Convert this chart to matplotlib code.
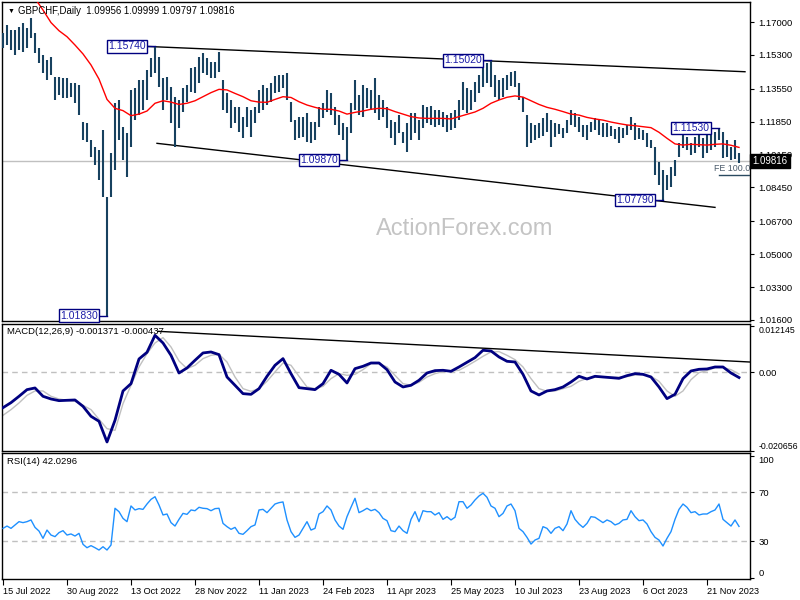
import matplotlib
matplotlib.use("Agg")
import matplotlib.pyplot as plt
import numpy as np

plt.rcParams["font.family"] = ["Liberation Sans", "DejaVu Sans"]

# %% data (one bar = 2 trading days, index 0 = 15 Jul 2022)
highs = [
    1.1641, 1.1684, 1.1659, 1.1659, 1.1676, 1.1693, 1.1667, 1.1719, 1.1641, 1.1564,
    1.1530, 1.1504, 1.1521, 1.1418, 1.1418, 1.1409, 1.1409, 1.1383, 1.1383, 1.1375,
    1.1185, 1.1176, 1.1090, 1.1056, 1.1038, 1.1142, 1.0797, 1.1021, 1.1280, 1.1297,
    1.1159, 1.1125, 1.1349, 1.1357, 1.1400, 1.1400, 1.1452, 1.1512, 1.1574, 1.1521,
    1.1409, 1.1418, 1.1366, 1.1314, 1.1297, 1.1357, 1.1375, 1.1461, 1.1469, 1.1521,
    1.1538, 1.1512, 1.1495, 1.1495, 1.1547, 1.1400, 1.1331, 1.1297, 1.1262, 1.1262,
    1.1211, 1.1262, 1.1245, 1.1262, 1.1349, 1.1375, 1.1357, 1.1383, 1.1421, 1.1426,
    1.1426, 1.1438, 1.1288, 1.1194, 1.1211, 1.1211, 1.1228, 1.1185, 1.1185, 1.1262,
    1.1280, 1.1349, 1.1331, 1.1262, 1.1220, 1.1176, 1.1159, 1.1280, 1.1400, 1.1323,
    1.1375, 1.1357, 1.1349, 1.1409, 1.1323, 1.1297, 1.1262, 1.1194, 1.1185, 1.1220,
    1.1133, 1.1176, 1.1228, 1.1228, 1.1194, 1.1271, 1.1262, 1.1266, 1.1245, 1.1245,
    1.1237, 1.1220, 1.1228, 1.1245, 1.1297, 1.1392, 1.1357, 1.1349, 1.1392, 1.1426,
    1.1469, 1.1487, 1.1502, 1.1426, 1.1400, 1.1409, 1.1426, 1.1443, 1.1449, 1.1383,
    1.1314, 1.1220, 1.1176, 1.1168, 1.1176, 1.1202, 1.1228, 1.1194, 1.1176, 1.1173,
    1.1151, 1.1194, 1.1245, 1.1228, 1.1211, 1.1168, 1.1168, 1.1185, 1.1202, 1.1194,
    1.1176, 1.1176, 1.1163, 1.1146, 1.1159, 1.1151, 1.1168, 1.1211, 1.1176, 1.1151,
    1.1142, 1.1125, 1.1090, 1.1056, 1.0978, 1.0935, 1.0909, 1.0952, 1.0987, 1.1073,
    1.1125, 1.1107, 1.1073, 1.1107, 1.1125, 1.1099, 1.1116, 1.1125, 1.1133, 1.1153,
    1.1133, 1.1090, 1.1056, 1.1090, 1.1021,
]
lows = [
    1.1564, 1.1581, 1.1555, 1.1530, 1.1555, 1.1547, 1.1564, 1.1616, 1.1538, 1.1487,
    1.1435, 1.1400, 1.1426, 1.1297, 1.1323, 1.1306, 1.1306, 1.1314, 1.1280, 1.1220,
    1.1090, 1.1082, 1.1004, 1.0961, 1.0883, 1.0797, 1.0183, 1.0797, 1.0935, 1.1090,
    1.0987, 1.0901, 1.1056, 1.1194, 1.1220, 1.1245, 1.1297, 1.1418, 1.1435, 1.1366,
    1.1245, 1.1297, 1.1176, 1.1056, 1.1150, 1.1237, 1.1288, 1.1340, 1.1331, 1.1383,
    1.1435, 1.1426, 1.1409, 1.1409, 1.1443, 1.1245, 1.1228, 1.1150, 1.1176, 1.1133,
    1.1099, 1.1159, 1.1107, 1.1176, 1.1228, 1.1245, 1.1271, 1.1288, 1.1331, 1.1340,
    1.1357, 1.1297, 1.1185, 1.1090, 1.1099, 1.1107, 1.1082, 1.1073, 1.1090, 1.1159,
    1.1202, 1.1237, 1.1220, 1.1168, 1.1116, 1.1090, 1.0987, 1.1125, 1.1245, 1.1220,
    1.1211, 1.1254, 1.1245, 1.1228, 1.1194, 1.1211, 1.1150, 1.1099, 1.1064, 1.1125,
    1.1073, 1.1030, 1.1090, 1.1125, 1.1090, 1.1150, 1.1176, 1.1168, 1.1159, 1.1168,
    1.1159, 1.1133, 1.1142, 1.1150, 1.1194, 1.1245, 1.1228, 1.1245, 1.1288, 1.1331,
    1.1366, 1.1383, 1.1366, 1.1314, 1.1297, 1.1314, 1.1349, 1.1369, 1.1362, 1.1297,
    1.1237, 1.1056, 1.1073, 1.1090, 1.1099, 1.1111, 1.1133, 1.1056, 1.1107, 1.1121,
    1.1099, 1.1125, 1.1168, 1.1159, 1.1133, 1.1107, 1.1090, 1.1133, 1.1142, 1.1116,
    1.1107, 1.1107, 1.1111, 1.1094, 1.1073, 1.1099, 1.1116, 1.1142, 1.1090, 1.1094,
    1.1090, 1.1056, 1.1047, 1.0909, 1.0857, 1.0779, 1.0832, 1.0849, 1.0904, 1.1004,
    1.1047, 1.1038, 1.1013, 1.1021, 1.1056, 1.0995, 1.1021, 1.1038, 1.1056, 1.1090,
    1.0995, 1.1004, 1.0987, 1.0990, 1.0973,
]

# moving average, one value per 4 trading days
ma = [
    1.2070, 1.2020, 1.1955, 1.1891, 1.1822, 1.1762, 1.1697, 1.1655, 1.1624, 1.1581,
    1.1535, 1.1478, 1.1405, 1.1300, 1.1254, 1.1242, 1.1216, 1.1224, 1.1240, 1.1280,
    1.1293, 1.1286, 1.1274, 1.1280, 1.1293, 1.1314, 1.1335, 1.1352, 1.1349, 1.1331,
    1.1314, 1.1293, 1.1286, 1.1285, 1.1300, 1.1314, 1.1310, 1.1288, 1.1271, 1.1259,
    1.1249, 1.1249, 1.1240, 1.1224, 1.1233, 1.1240, 1.1249, 1.1254, 1.1252, 1.1237,
    1.1224, 1.1211, 1.1204, 1.1202, 1.1202, 1.1202, 1.1199, 1.1211, 1.1223, 1.1235,
    1.1254, 1.1280, 1.1297, 1.1311, 1.1318, 1.1312, 1.1293, 1.1274, 1.1259, 1.1249,
    1.1237, 1.1224, 1.1219, 1.1207, 1.1199, 1.1193, 1.1183, 1.1175, 1.1168, 1.1164,
    1.1159, 1.1154, 1.1130, 1.1099, 1.1070, 1.1064, 1.1068, 1.1066, 1.1064, 1.1068,
    1.1070, 1.1063, 1.1052,
]

macd = [
    -0.00928, -0.00796, -0.00630, -0.00455, -0.00411, -0.00630, -0.00700, -0.00744, -0.00735, -0.00726,
    -0.00893, -0.01155, -0.01286, -0.01829, -0.01260, -0.00490, -0.00298, 0.00350, 0.00525, 0.00971,
    0.00770, 0.00446, -0.00018, 0.00114, 0.00315, 0.00508, 0.00534, 0.00464, -0.00123, -0.00341,
    -0.00560, -0.00578, -0.00429, -0.00105, 0.00184, 0.00359, -0.00035, -0.00403, -0.00429, -0.00455,
    -0.00298, 0.00053, -0.00053, -0.00280, 0.00096, 0.00158, 0.00245, 0.00245, 0.00070, -0.00254,
    -0.00385, -0.00341, -0.00210, -0.00018, 0.00044, 0.00053, 0.00026, 0.00140, 0.00263, 0.00385,
    0.00578, 0.00560, 0.00403, 0.00289, 0.00271, -0.00053, -0.00490, -0.00595, -0.00490, -0.00455,
    -0.00385, -0.00254, -0.00105, -0.00175, -0.00105, -0.00123, -0.00140, -0.00158, -0.00088, -0.00035,
    -0.00053, -0.00123, -0.00385, -0.00691, -0.00578, -0.00166, 0.00035, 0.00079, 0.00088, 0.00140,
    0.00140, -0.00018, -0.00137,
]
signal = [
    -0.01129, -0.00980, -0.00805, -0.00604, -0.00490, -0.00490, -0.00630, -0.00700, -0.00735, -0.00761,
    -0.00866, -0.00980, -0.01234, -0.01479, -0.01523, -0.00823, -0.00341, 0.00140, 0.00490, 0.00770,
    0.00910, 0.00665, 0.00298, 0.00096, 0.00184, 0.00359, 0.00446, 0.00473, 0.00271, -0.00123,
    -0.00429, -0.00499, -0.00429, -0.00236, 0.00009, 0.00245, 0.00184, -0.00105, -0.00385, -0.00429,
    -0.00368, -0.00166, -0.00035, -0.00079, -0.00053, 0.00070, 0.00228, 0.00228, 0.00140, -0.00079,
    -0.00298, -0.00341, -0.00263, -0.00123, -0.00035, 0.00018, 0.00035, 0.00053, 0.00166, 0.00289,
    0.00420, 0.00534, 0.00543, 0.00446, 0.00333, 0.00140, -0.00166, -0.00429, -0.00499, -0.00490,
    -0.00429, -0.00368, -0.00236, -0.00158, -0.00131, -0.00123, -0.00131, -0.00131, -0.00114, -0.00070,
    -0.00061, -0.00105, -0.00236, -0.00490, -0.00630, -0.00490, -0.00193, -0.00009, 0.00044, 0.00123,
    0.00123, 0.00070, -0.00044,
]

rsi = [
    40.4, 42.3, 40.4, 43.2, 45.9, 45.1, 45.9, 47.3, 41.2, 38.2,
    32.2, 39.0, 34.9, 33.6, 36.9, 38.5, 34.9, 35.8, 34.1, 36.3,
    27.3, 24.5, 26.2, 24.5, 22.6, 25.3, 22.6, 26.7, 56.9, 54.1,
    48.6, 45.9, 58.8, 55.5, 56.6, 56.0, 60.4, 64.2, 66.4, 59.6,
    51.4, 52.2, 45.1, 42.3, 47.8, 52.7, 51.9, 55.5, 54.9, 57.7,
    56.9, 56.6, 54.9, 56.6, 56.9, 44.5, 41.8, 39.6, 41.2, 36.3,
    35.5, 38.5, 41.8, 43.2, 55.5, 56.0, 53.3, 56.9, 60.4, 61.5,
    62.1, 47.3, 37.7, 33.0, 34.9, 40.4, 45.9, 39.0, 40.4, 52.2,
    54.1, 58.8, 55.5, 47.3, 42.3, 39.6, 50.0, 57.7, 65.1, 53.3,
    54.9, 56.9, 54.9, 56.0, 53.3, 48.6, 46.7, 38.5, 37.7, 42.3,
    38.5, 36.3, 47.8, 54.1, 45.9, 54.9, 54.1, 54.1, 51.4, 53.3,
    47.8, 50.0, 47.3, 49.5, 62.3, 62.3, 56.9, 59.6, 63.7, 67.0,
    69.2, 65.9, 58.8, 56.9, 50.0, 52.7, 58.8, 60.4, 54.9, 40.4,
    37.7, 33.0, 27.5, 30.8, 32.2, 41.8, 40.4, 36.3, 40.4, 41.8,
    38.5, 44.0, 54.9, 47.8, 44.0, 41.2, 44.5, 50.0, 49.5, 47.3,
    45.1, 47.3, 45.9, 43.2, 44.5, 47.3, 47.8, 54.9, 50.0, 46.7,
    47.3, 44.0, 37.7, 33.0, 30.8, 25.9, 32.2, 37.7, 47.8, 56.0,
    60.4, 57.7, 53.3, 54.1, 51.4, 52.2, 52.2, 54.1, 55.5, 60.4,
    47.8, 45.1, 42.3, 47.3, 42.0,
]

ohlc_last = [1.09956, 1.09999, 1.09797, 1.09816]
macd_last = [-0.001371, -0.000437]
rsi_last = 42.0296

# swing labels: (trading-day index, price)
swing_idx = [52, 76, 172, 244, 330, 358]
swing_price = [1.0183, 1.1574, 1.0987, 1.1502, 1.0779, 1.1153]

# channel lines drawn on the chart
upper_x, upper_y = [71.5, 371], [1.1574, 1.1443]
lower_x, lower_y = [77, 356], [1.1073, 1.0742]
macd_trend_x, macd_trend_y = [77.5, 373.5], [0.01076, 0.0027]
fe_level = 1.0911

price_ticks = [1.17, 1.153, 1.1355, 1.1185, 1.1015, 1.0845, 1.067, 1.05, 1.033, 1.016]
date_idx = [0, 32, 64, 96, 128, 160, 192, 224, 256, 288, 320, 352]
date_labels = ["15 Jul 2022", "30 Aug 2022", "13 Oct 2022", "28 Nov 2022", "11 Jan 2023",
               "24 Feb 2023", "11 Apr 2023", "25 May 2023", "10 Jul 2023", "23 Aug 2023",
               "6 Oct 2023", "21 Nov 2023"]

# %% layout helpers
W, H = 800, 600
fig = plt.figure(figsize=(8, 6), dpi=100)
fig.patch.set_facecolor("white")


def px_axes(x0, y0, x1, y1):
    return fig.add_axes([x0 / W, 1 - y1 / H, (x1 - x0) / W, (y1 - y0) / H])


def style_axes(ax):
    ax.set_xlim(-0.5, 373.5)
    ax.yaxis.tick_right()
    ax.tick_params(axis="y", direction="out", length=3, labelsize=6.8, pad=3, colors="black")
    ax.tick_params(axis="x", bottom=False, labelbottom=False)
    for sp in ax.spines.values():
        sp.set_linewidth(1)
        sp.set_color("black")


BAR_C = "#17415f"
LABEL_C = "#1c1ca8"

# %% main price panel
ax = px_axes(2, 2, 750, 321)
style_axes(ax)
ax.set_ylim(1.01548, 1.18034)
ax.set_yticks(price_ticks)
ax.set_yticklabels([f"{t:.5f}" for t in price_ticks])

bar_x = np.arange(len(highs)) * 2
ax.vlines(bar_x, lows, highs, color=BAR_C, lw=1.5, zorder=3)
ax.plot(np.arange(len(ma)) * 4, ma, color="#ff0000", lw=1, zorder=4)
ax.axhline(ohlc_last[3], color="#c0c0c0", lw=1, zorder=1)
ax.plot(upper_x, upper_y, color="black", lw=1, zorder=2)
ax.plot(lower_x, lower_y, color="black", lw=1, zorder=2)

for i, p in zip(swing_idx, swing_price):
    gap = 4.7
    ax.plot([i - gap, i], [p, p], color="#000080", lw=1, zorder=5)
    ax.text(i - gap, p, f"{p:.5f}", ha="right", va="center", fontsize=7.5, color=LABEL_C,
            zorder=6, bbox=dict(boxstyle="square,pad=0.12", fc="white", ec="#000080", lw=1))

ax.plot([358, 373.5], [fe_level, fe_level], color="#2a4a60", lw=1, zorder=5)
ax.text(355.5, fe_level + 0.0008, "FE 100.0", fontsize=6.4, color="#4a5a6a", va="bottom",
        ha="left", zorder=6, clip_on=True)

ax.text(0.618, 0.289, "ActionForex.com", transform=ax.transAxes, fontsize=17,
        color="#c4c4c4", ha="center", va="center", zorder=0)
ax.text(1.003, ohlc_last[3], f"{ohlc_last[3]:.5f}", transform=ax.get_yaxis_transform(),
        fontsize=7, color="white", ha="left", va="center", clip_on=False, zorder=10,
        bbox=dict(boxstyle="square,pad=0.25", fc="black", ec="black"))

fig.text(8 / W, 1 - 11 / H, "\u25bc", fontsize=5, va="center", ha="left")
fig.text(18 / W, 1 - 11 / H,
         "GBPCHF,Daily  " + " ".join(f"{v:.5f}" for v in ohlc_last),
         fontsize=6.9, va="center", ha="left")

# %% MACD panel
ax2 = px_axes(2, 324, 750, 451)
style_axes(ax2)
ax2.set_ylim(-0.020656, 0.01268)
ax2.axhline(0, color="#c0c0c0", lw=1, ls=(0, (4, 3)), zorder=1)
ax2.plot(np.arange(len(signal)) * 4, signal, color="#c0c0c0", lw=1, zorder=2)
ax2.plot(np.arange(len(macd)) * 4, macd, color="#000080", lw=2, zorder=3)
ax2.plot(macd_trend_x, macd_trend_y, color="black", lw=1, zorder=4)
ax2.set_yticks([0.012145, 0.0, -0.020656])
ax2.set_yticklabels(["0.012145", "0.00", "-0.020656"])
tl = ax2.get_yticklabels()
tl[0].set_va("top")
tl[0].set_fontsize(6.3)
tl[2].set_va("bottom")
tl[2].set_fontsize(6.3)
ax2.text(0.007, 0.94, f"MACD(12,26,9) {macd_last[0]:.6f} {macd_last[1]:.6f}",
         transform=ax2.transAxes, fontsize=6.8, va="center", ha="left")

# %% RSI panel
ax3 = px_axes(2, 453, 750, 579)
style_axes(ax3)
ax3.set_ylim(-1.2, 102.3)
for lvl in (70, 30):
    ax3.axhline(lvl, color="#c0c0c0", lw=1, ls=(0, (4, 3)), zorder=1)
ax3.plot(np.arange(len(rsi)) * 2, rsi, color="#1e90ff", lw=1, zorder=3)
ax3.set_yticks([100, 70, 30, 0])
ax3.set_yticklabels(["100", "70", "30", "0"])
tl = ax3.get_yticklabels()
tl[0].set_va("top")
tl[3].set_va("bottom")
ax3.text(0.007, 0.93, f"RSI(14) {rsi_last:.4f}", transform=ax3.transAxes,
         fontsize=6.8, va="center", ha="left")

ax3.tick_params(axis="x", bottom=True, labelbottom=True, direction="out", length=4,
                labelsize=6.6, pad=2)
ax3.set_xticks(date_idx)
ax3.set_xticklabels(date_labels, ha="left")

fig.savefig("out.png", dpi=100)
